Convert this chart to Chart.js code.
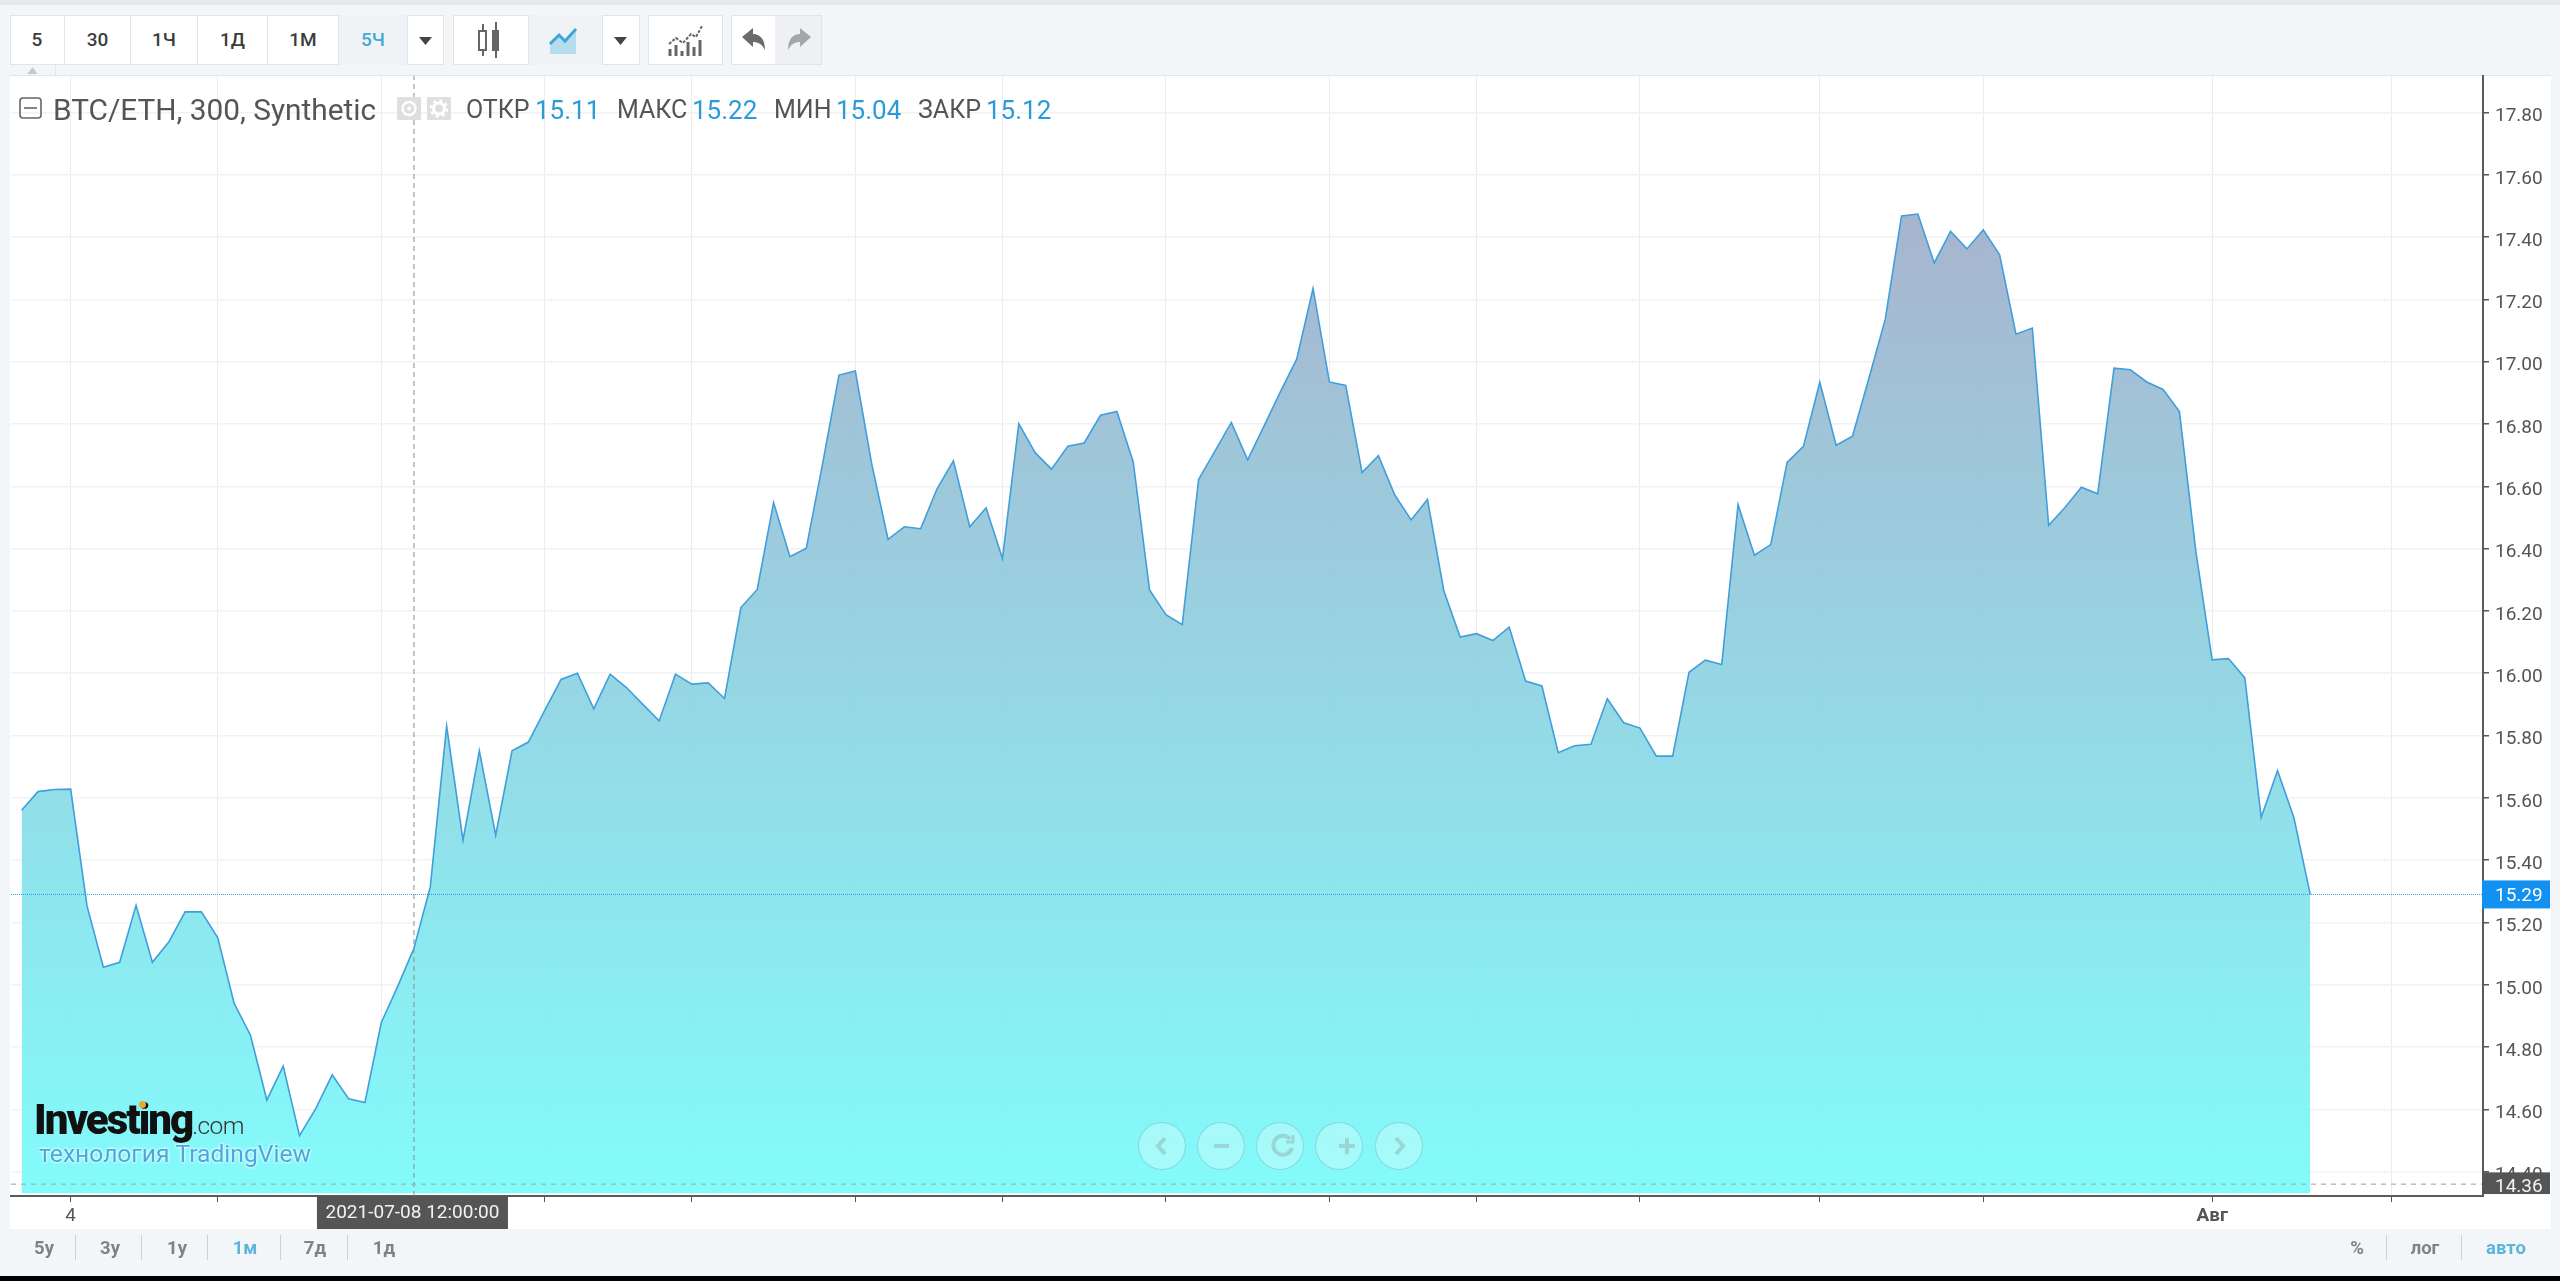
<!DOCTYPE html>
<html lang="ru">
<head>
<meta charset="utf-8">
<title>BTC/ETH</title>
<script src="https://cdn.jsdelivr.net/npm/chart.js@4"></script>
<style>
html, body { margin: 0; padding: 0; width: 2560px; height: 1281px; overflow: hidden; background: #f3f6f9; font-family: Roboto, sans-serif; color: #555; }
#chartCanvas { position: absolute; left: 0; top: 0; }
.abs { position: absolute; white-space: nowrap; }
.topstrip { left: 0; top: 0; width: 2560px; height: 5px; background: #e8e8e8; }
.frame { left: 10px; top: 75px; width: 2541px; height: 1154px; background: #fff; border-top: 1px solid #e2e5e8; box-sizing: border-box; }
.blackbar { left: 0; top: 1276px; width: 2560px; height: 5px; background: #000; }
.group { top: 15px; height: 50px; background: #fff; border: 1px solid #e1e4e8; box-sizing: border-box; }
.btn { top: 15px; height: 50px; line-height: 50px; text-align: center; font-size: 19px; font-weight: 500; color: #3c3c3c; border-right: 1px solid #e1e4e8; box-sizing: border-box; }
.btn.on { background: #f0f3f6; color: #46a9d6; }
.legend { top: 92px; line-height: 36px; font-size: 29.8px; color: #555; }
.ohlc { top: 92px; line-height: 36px; font-size: 25px; color: #555; }
.ohlc.val { font-size: 26px; color: #2a9bd8; }
.foot { top: 1248px; font-size: 18.5px; font-weight: 700; color: #808385; transform: translate(-50%, -50%); }
.foot.on { color: #5cb5d9; }
.sep { top: 1235px; width: 1px; height: 25px; background: #cdd1d5; }
.nav { top: 1122px; width: 48px; height: 48px; border-radius: 50%; background: rgba(255,255,255,0.28); border: 1px solid rgba(110,190,190,0.55); box-sizing: border-box; }
.logo { left: 34px; top: 1096px; font-size: 42px; font-weight: 900; letter-spacing: -2px; color: #111; line-height: 48px; }
.logo span { font-size: 24.5px; font-weight: 300; letter-spacing: -0.5px; color: #333; }
.tech { left: 39px; top: 1139px; font-size: 24.6px; line-height: 30px; color: #4aa8dc; text-shadow: 0 0 3px #fff, 0 0 3px #fff; }
</style>
</head>
<body>
<div class="abs topstrip"></div>
<div class="abs frame"></div>
<canvas id="chartCanvas" width="2560" height="1281"></canvas>
<div class="abs blackbar"></div>

<!-- toolbar -->
<div class="abs group" style="left:10px;width:434px"></div>
<div class="abs btn" style="left:10px;width:55px">5</div>
<div class="abs btn" style="left:65px;width:66px">30</div>
<div class="abs btn" style="left:131px;width:67px">1Ч</div>
<div class="abs btn" style="left:198px;width:70px">1Д</div>
<div class="abs btn" style="left:268px;width:71px">1М</div>
<div class="abs btn on" style="left:339px;width:69px">5Ч</div>
<svg class="abs" style="left:416px;top:36px" width="20" height="10"><path d="M3 1h13l-6.5 8z" fill="#444"/></svg>

<div class="abs group" style="left:453px;width:187px"></div>
<div class="abs btn on" style="left:528px;width:75px;border-left:1px solid #e1e4e8"></div>
<svg class="abs" style="left:472px;top:20px" width="40" height="40"><path d="M11 4v7M11 30v6M24 2v8M24 31v7" stroke="#666" stroke-width="2"/><rect x="7" y="11" width="7" height="19" fill="#fff" stroke="#666" stroke-width="2"/><rect x="20" y="10" width="7" height="21" fill="#666"/></svg>
<svg class="abs" style="left:548px;top:24px" width="36" height="32"><path d="M2 20l9-9 6 6 11-12v25H2z" fill="#b5dded"/><path d="M2 20l9-9 6 6 11-12" fill="none" stroke="#3fa6d6" stroke-width="3"/></svg>
<svg class="abs" style="left:611px;top:36px" width="20" height="10"><path d="M3 1h13l-6.5 8z" fill="#444"/></svg>

<div class="abs group" style="left:648px;width:75px"></div>
<svg class="abs" style="left:667px;top:24px" width="38" height="34"><path d="M2 20l7-6 7 5 8-9 5 3 6-11" fill="none" stroke="#666" stroke-width="2" stroke-dasharray="3 1.5"/><path d="M3 32v-7M9 32v-11M15 32v-5M21 32v-14M27 32v-9M33 32v-16" stroke="#666" stroke-width="3"/></svg>

<div class="abs group" style="left:731px;width:91px"></div>
<div class="abs" style="left:775px;top:16px;width:46px;height:48px;background:#eef0f3"></div>
<svg class="abs" style="left:741px;top:27px" width="26" height="26"><path d="M1 10L12 1v6c7 0 12 5 12 16-3-6-7-8-12-8v5z" fill="#6b6b6b"/></svg>
<svg class="abs" style="left:786px;top:27px" width="26" height="26"><path d="M25 10L14 1v6C7 7 2 12 2 23c3-6 7-8 12-8v5z" fill="#a4a7aa"/></svg>

<!-- collapse tab under toolbar -->
<div class="abs" style="left:10px;top:65px;width:45px;height:10px;border-right:1px solid #e1e4e8"></div>
<svg class="abs" style="left:27px;top:67px" width="11" height="7"><path d="M5.5 0l5 7H.5z" fill="#c4c8cc"/></svg>

<!-- legend -->
<svg class="abs" style="left:19px;top:97px" width="24" height="22"><rect x="1" y="1" width="21" height="20" rx="3" fill="none" stroke="#666" stroke-width="1.6"/><path d="M5 11h13" stroke="#666" stroke-width="1.6"/></svg>
<div class="abs legend" style="left:53px">BTC/ETH, 300, Synthetic</div>
<svg class="abs" style="left:397px;top:97px" width="24" height="23"><rect width="24" height="23" fill="#dedfe0"/><circle cx="12" cy="11.5" r="6.5" fill="none" stroke="#fff" stroke-width="2.4"/><circle cx="12" cy="11.5" r="2" fill="#fff"/></svg>
<svg class="abs" style="left:427px;top:97px" width="24" height="23"><rect width="24" height="23" fill="#dedfe0"/><circle cx="12" cy="11.5" r="5.5" fill="none" stroke="#fff" stroke-width="3"/><circle cx="12" cy="11.5" r="8" fill="none" stroke="#fff" stroke-width="2.5" stroke-dasharray="3 3.3"/></svg>
<div class="abs ohlc" style="left:466px">ОТКР</div>
<div class="abs ohlc val" style="left:535px">15.11</div>
<div class="abs ohlc" style="left:617px">МАКС</div>
<div class="abs ohlc val" style="left:692px">15.22</div>
<div class="abs ohlc" style="left:774px">МИН</div>
<div class="abs ohlc val" style="left:836px">15.04</div>
<div class="abs ohlc" style="left:918px">ЗАКР</div>
<div class="abs ohlc val" style="left:986px">15.12</div>

<!-- watermark -->
<div class="abs logo">Investing<span>.com</span></div>
<div class="abs" style="left:139px;top:1101px;width:7px;height:7px;border-radius:50%;background:#eda92b"></div>
<div class="abs tech">технология TradingView</div>

<!-- zoom controls -->
<div class="abs nav" style="left:1138px"></div>
<div class="abs nav" style="left:1197px"></div>
<div class="abs nav" style="left:1256px"></div>
<div class="abs nav" style="left:1315px"></div>
<div class="abs nav" style="left:1375px"></div>
<svg class="abs" style="left:1138px;top:1122px" width="310" height="48" fill="none" stroke="#9bd6d6" stroke-width="4">
  <path d="M27 16l-7 8 7 8"/><path d="M76 24h15"/>
  <path d="M152 17a9.5 9.5 0 1 0 2 9"/><path d="M155 13v7h-7" stroke-width="3"/>
  <path d="M201 24h16M209 16v16"/><path d="M258 16l7 8-7 8"/>
</svg>

<!-- footer -->
<div class="abs foot" style="left:44px">5у</div>
<div class="abs sep" style="left:75px"></div>
<div class="abs foot" style="left:110px">3у</div>
<div class="abs sep" style="left:141px"></div>
<div class="abs foot" style="left:177px">1у</div>
<div class="abs sep" style="left:207px"></div>
<div class="abs foot on" style="left:245px">1м</div>
<div class="abs sep" style="left:280px"></div>
<div class="abs foot" style="left:315px">7д</div>
<div class="abs sep" style="left:347px"></div>
<div class="abs foot" style="left:384px">1д</div>
<div class="abs foot" style="left:2357px">%</div>
<div class="abs sep" style="left:2386px"></div>
<div class="abs foot" style="left:2425px">лог</div>
<div class="abs sep" style="left:2461px"></div>
<div class="abs foot on" style="left:2506px">авто</div>

<script>
// closes of the 5h bars
const closeValues = [
    15.56, 15.62, 15.627, 15.628, 15.253, 15.056, 15.072, 15.255, 15.072, 15.137,
    15.234, 15.234, 15.151, 14.94, 14.838, 14.63, 14.739, 14.516, 14.603, 14.711,
    14.634, 14.622, 14.878, 14.994, 15.117, 15.314, 15.83, 15.464, 15.751, 15.48,
    15.751, 15.779, 15.881, 15.98, 16.0, 15.886, 15.997, 15.954, 15.9, 15.847,
    15.997, 15.965, 15.969, 15.919, 16.211, 16.269, 16.548, 16.374, 16.401, 16.673,
    16.957, 16.97, 16.673, 16.43, 16.47, 16.464, 16.592, 16.682, 16.47, 16.531,
    16.368, 16.801, 16.708, 16.655, 16.729, 16.739, 16.828, 16.84, 16.678, 16.267,
    16.188, 16.156, 16.622, 16.713, 16.805, 16.685, 16.793, 16.903, 17.008, 17.235,
    16.935, 16.924, 16.644, 16.698, 16.572, 16.492, 16.558, 16.265, 16.116, 16.127,
    16.105, 16.148, 15.975, 15.959, 15.745, 15.767, 15.772, 15.918, 15.841, 15.824,
    15.734, 15.734, 16.003, 16.042, 16.028, 16.541, 16.379, 16.413, 16.677, 16.728,
    16.934, 16.732, 16.761, 16.946, 17.135, 17.468, 17.474, 17.317, 17.418, 17.362,
    17.423, 17.343, 17.088, 17.108, 16.475, 16.532, 16.597, 16.576, 16.979, 16.974,
    16.935, 16.911, 16.84, 16.393, 16.043, 16.047, 15.985, 15.537, 15.687, 15.537,
    15.29
];

const yTickValues = [17.8, 17.6, 17.4, 17.2, 17.0, 16.8, 16.6, 16.4, 16.2, 16.0, 15.8, 15.6, 15.4, 15.2, 15.0, 14.8, 14.6, 14.4];
const xTickBars = [3, 12, 22, 32, 41, 51, 60, 70, 80, 89, 99, 110, 120, 134, 145];
const xTickLabels = ['4', '', '', '', '', '', '', '', '', '', '', '', '', 'Авг', ''];

const lastPrice = 15.29;
const lowPrice = 14.36;
const crosshairBar = 24;
const crosshairTime = '2021-07-08 12:00:00';

// visible window
const xMin = -0.65;
const xMax = 150.57;
const yMin = 14.322;
const yMax = 17.917;
const areaFloor = 14.331;

// price tags and the time label sit on top of the axes
const axisTags = {
    id: 'axisTags',
    afterDraw(chart) {
        const ctx = chart.ctx;
        const y = chart.scales.y;
        const x = chart.scales.x;
        const area = chart.chartArea;

        ctx.save();
        ctx.font = '19px Roboto';
        ctx.textBaseline = 'middle';

        const lastY = y.getPixelForValue(lastPrice);
        ctx.fillStyle = '#1391f0';
        ctx.fillRect(area.right - 1, lastY - 14, 68, 28);
        ctx.fillStyle = '#fff';
        ctx.fillText(lastPrice.toFixed(2), area.right + 12, lastY + 2);

        const lowY = y.getPixelForValue(lowPrice);
        ctx.save();
        ctx.beginPath();
        ctx.rect(area.right - 1, lowY - 12, 68, 22);
        ctx.clip();
        ctx.fillStyle = '#555';
        ctx.fillRect(area.right - 1, lowY - 12, 68, 22);
        ctx.fillStyle = '#f2f2f2';
        ctx.fillText(lowPrice.toFixed(2), area.right + 12, lowY + 3);
        ctx.restore();

        const crossX = x.getPixelForValue(crosshairBar);
        ctx.fillStyle = '#555';
        ctx.fillRect(crossX - 97, area.bottom, 191, 33);
        ctx.fillStyle = '#f2f2f2';
        ctx.textAlign = 'center';
        ctx.fillText(crosshairTime, crossX - 1.5, area.bottom + 17);
        ctx.restore();
    }
};

Chart.defaults.font.family = 'Roboto';

const chartCtx = document.getElementById('chartCanvas').getContext('2d');
const priceChart = new Chart(chartCtx, {
    type: 'line',
    data: {
        datasets: [
            {
                label: 'BTC/ETH',
                data: closeValues.map((v, i) => ({ x: i, y: v })),
                borderColor: '#3f9fdc',
                borderWidth: 1.6,
                pointRadius: 0,
                tension: 0,
                order: 3,
                fill: { value: areaFloor },
                backgroundColor(context) {
                    const area = context.chart.chartArea;
                    if (!area) return 'transparent';
                    const g = context.chart.ctx.createLinearGradient(0, area.top, 0, area.bottom);
                    g.addColorStop(0, 'rgba(166,163,195,0.92)');
                    g.addColorStop(1, 'rgba(120,251,251,0.92)');
                    return g;
                }
            },
            {
                label: 'last',
                data: [{ x: xMin, y: lastPrice }, { x: xMax, y: lastPrice }],
                borderColor: '#2f9ae0',
                borderWidth: 1,
                borderDash: [1, 1],
                pointRadius: 0,
                order: 1
            },
            {
                label: 'low',
                data: [{ x: xMin, y: lowPrice }, { x: xMax, y: lowPrice }],
                borderColor: '#a9adb0',
                borderWidth: 1.2,
                borderDash: [5, 5],
                pointRadius: 0,
                order: 1
            },
            {
                label: 'crosshair',
                data: [{ x: crosshairBar, y: yMin }, { x: crosshairBar, y: yMax }],
                borderColor: '#8a8d90',
                borderWidth: 1,
                borderDash: [5, 4],
                pointRadius: 0,
                order: 1
            }
        ]
    },
    options: {
        responsive: false,
        animation: false,
        devicePixelRatio: 1,
        layout: { padding: { left: 11, top: 76, right: 9, bottom: 52 } },
        plugins: { legend: { display: false }, tooltip: { enabled: false } },
        scales: {
            x: {
                type: 'linear',
                min: xMin,
                max: xMax,
                afterBuildTicks(axis) {
                    axis.ticks = xTickBars.map(value => ({ value }));
                },
                afterFit(axis) {
                    axis.height = 33;
                },
                grid: { color: '#e9edf2', lineWidth: 1, tickColor: '#555', tickLength: 6 },
                border: { color: '#5a5a5a', width: 2 },
                ticks: {
                    autoSkip: false,
                    maxRotation: 0,
                    padding: 3,
                    color: '#555',
                    font: ctx => ({ size: 19, weight: ctx.index === 13 ? 'bold' : 'normal' }),
                    callback: (v, i) => xTickLabels[i]
                }
            },
            y: {
                position: 'right',
                min: yMin,
                max: yMax,
                afterBuildTicks(axis) {
                    axis.ticks = yTickValues.map(value => ({ value }));
                },
                afterFit(axis) {
                    axis.width = 68;
                },
                grid: { color: '#f1f2f4', lineWidth: 1.5, tickColor: '#555', tickLength: 6 },
                border: { color: '#5a5a5a', width: 2 },
                ticks: {
                    autoSkip: false,
                    crossAlign: 'near',
                    padding: 6,
                    labelOffset: 4,
                    color: '#555',
                    font: { size: 19 },
                    callback: v => v.toFixed(2)
                }
            }
        }
    },
    plugins: [axisTags]
});
</script>
</body>
</html>
